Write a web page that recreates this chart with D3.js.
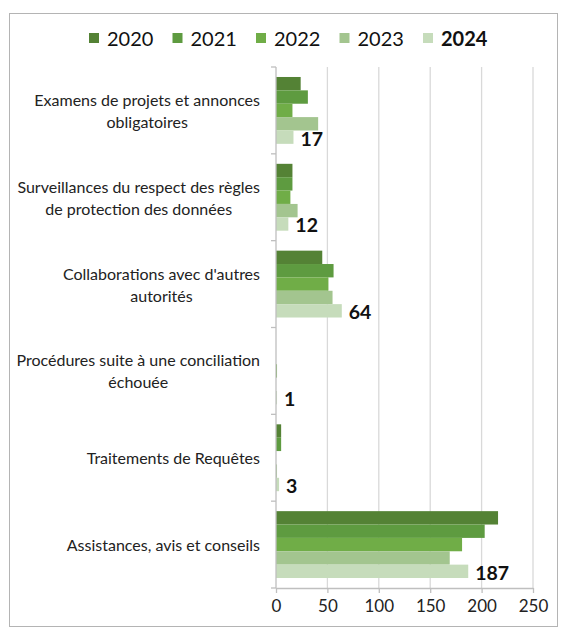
<!DOCTYPE html>
<html>
<head>
<meta charset="utf-8">
<script src="https://cdn.jsdelivr.net/npm/d3@7"></script>
<style>
  body { margin: 0; background: #fff; }
  svg { font-family: Lato, "Liberation Sans", sans-serif; }
</style>
</head>
<body>
<div id="chart"></div>
<script>
// data
const categories = [
  ["Examens de projets et annonces", "obligatoires"],
  ["Surveillances du respect des règles", "de protection des données"],
  ["Collaborations avec d'autres", "autorités"],
  ["Procédures suite à une conciliation", "échouée"],
  ["Traitements de Requêtes"],
  ["Assistances, avis et conseils"]
];
const years = ["2020", "2021", "2022", "2023", "2024"];
const values2020 = [24, 16, 45, 0, 5, 216];
const values2021 = [31, 16, 56, 0, 5, 203];
const values2022 = [16, 14, 51, 1, 0, 181];
const values2023 = [41, 21, 55, 0, 1, 169];
const values2024 = [17, 12, 64, 1, 3, 187];
const xTicks = [0, 50, 100, 150, 200, 250];
const colors = ["#548235", "#5e9b40", "#70ad47", "#a3c58f", "#c6dcbb"];

const series = [values2020, values2021, values2022, values2023, values2024];

const W = 574, H = 639;
const svg = d3.select("#chart").append("svg")
  .attr("width", W).attr("height", H);

// outer frame
svg.append("rect")
  .attr("x", 9.5).attr("y", 13.5)
  .attr("width", 548).attr("height", 613)
  .attr("fill", "none").attr("stroke", "#b4b4b4");

const plotLeft = 276, plotRight = 533, plotTop = 67, plotBottom = 588;

const x = d3.scaleLinear().domain([0, 250]).range([plotLeft, plotRight]);
const y = d3.scaleBand().domain(d3.range(categories.length))
  .range([plotTop, plotBottom]).paddingInner(0.23).paddingOuter(0.115);
const yb = d3.scaleBand().domain(d3.range(years.length)).range([0, y.bandwidth()]);

// grid
svg.append("g").selectAll("line").data(xTicks.slice(1)).join("line")
  .attr("x1", d => x(d)).attr("x2", d => x(d))
  .attr("y1", plotTop).attr("y2", plotBottom)
  .attr("stroke", "#d9d9d9").attr("stroke-width", 1.3);

// bars
categories.forEach((c, i) => {
  const g = svg.append("g").attr("transform", `translate(0,${y(i)})`);
  g.selectAll("rect").data(series.map(s => s[i])).join("rect")
    .attr("x", x(0))
    .attr("y", (d, k) => yb(k))
    .attr("width", d => x(d) - x(0))
    .attr("height", yb.bandwidth())
    .attr("fill", (d, k) => colors[k]);
  // value label for 2024
  g.append("text")
    .attr("x", x(values2024[i]) + 7)
    .attr("y", yb(4) + yb.bandwidth() / 2 + 1)
    .attr("dominant-baseline", "central")
    .attr("font-size", 19.5).attr("font-weight", "bold")
    .attr("fill", "#111")
    .text(values2024[i]);
});

// bottom axis
const xAxis = svg.append("g")
  .attr("transform", `translate(0,${plotBottom})`)
  .call(d3.axisBottom(x).tickValues(xTicks).tickSize(5).tickSizeOuter(0));
xAxis.select(".domain").attr("stroke", "#bfbfbf").attr("stroke-width", 1.3);
xAxis.selectAll(".tick line").attr("stroke", "#bfbfbf").attr("stroke-width", 1.3);
xAxis.selectAll(".tick text")
  .attr("font-size", 17).attr("fill", "#222")
  .attr("font-family", "Lato, sans-serif")
  .attr("y", 12);

// left axis line with category ticks
const step = (plotBottom - plotTop) / categories.length;
svg.append("line")
  .attr("x1", plotLeft).attr("x2", plotLeft).attr("y1", plotTop).attr("y2", plotBottom)
  .attr("stroke", "#bfbfbf").attr("stroke-width", 1.3);
svg.append("g").selectAll("line").data(d3.range(categories.length + 1)).join("line")
  .attr("x1", plotLeft - 5).attr("x2", plotLeft)
  .attr("y1", d => plotTop + d * step).attr("y2", d => plotTop + d * step)
  .attr("stroke", "#bfbfbf").attr("stroke-width", 1.3);

// category labels (lines centred inside a right-aligned block)
const lineH = 22;
categories.forEach((lines, i) => {
  const cy = plotTop + (i + 0.5) * step;
  const t = svg.append("text")
    .attr("font-size", 16).attr("fill", "#222")
    .attr("text-anchor", "middle");
  const spans = lines.map((l, k) => t.append("tspan")
    .attr("y", cy + (k - (lines.length - 1) / 2) * lineH)
    .attr("dominant-baseline", "central")
    .text(l));
  const maxW = d3.max(spans, s => s.node().getComputedTextLength());
  spans.forEach(s => s.attr("x", 260 - maxW / 2));
});

// legend
const legend = svg.append("g");
years.forEach((yr, k) => {
  const lx = 89 + k * 83.5;
  legend.append("rect")
    .attr("x", lx).attr("y", 33).attr("width", 10).attr("height", 10)
    .attr("fill", colors[k]);
  legend.append("text")
    .attr("x", lx + 18).attr("y", 38)
    .attr("dominant-baseline", "central")
    .attr("font-size", 20).attr("fill", "#111")
    .attr("font-weight", yr === "2024" ? "bold" : "normal")
    .text(yr);
});
</script>
</body>
</html>
